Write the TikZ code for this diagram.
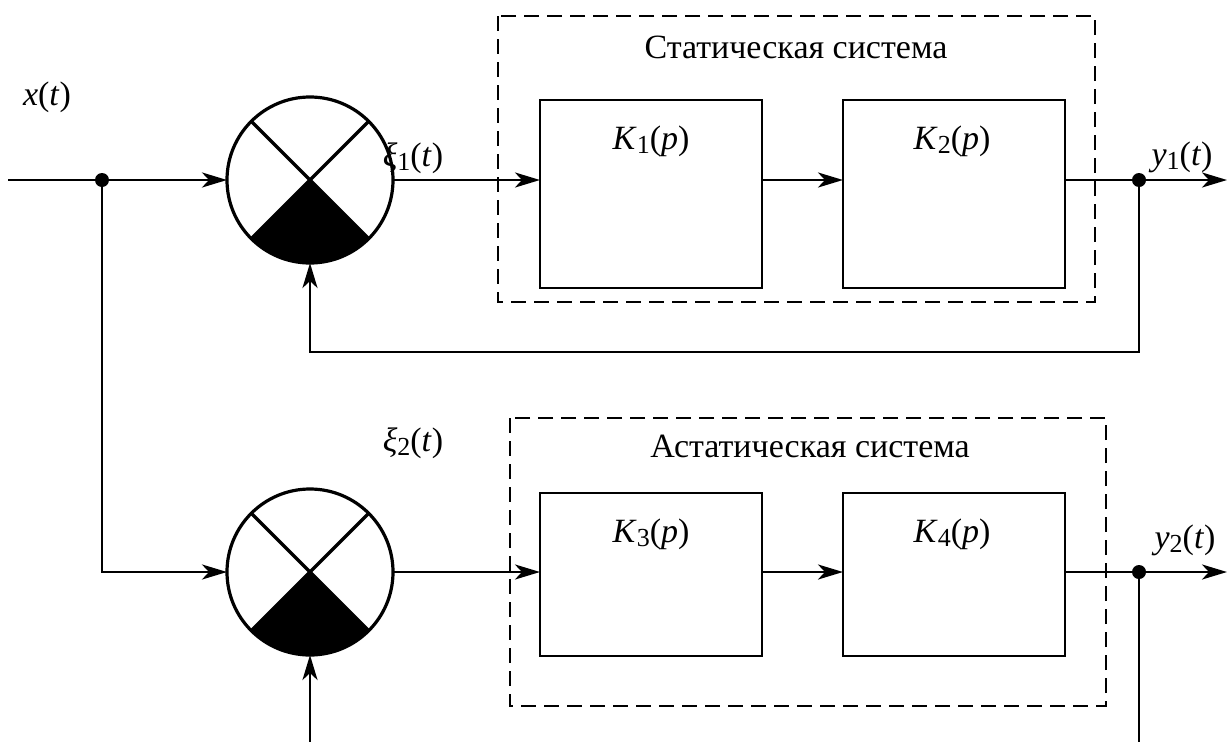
\documentclass[tikz,border=0pt]{standalone}
\usepackage{fontspec}
\setmainfont{Liberation Serif}
\usetikzlibrary{arrows.meta}
% lowered, smaller index digit
\newcommand{\lidx}[1]{\raisebox{-0.12em}{\fontsize{26}{26}\selectfont #1}}
\begin{document}
\begin{tikzpicture}[x=1pt,y=-1pt,
  every node/.style={font=\fontsize{34}{36}\selectfont},
  wire/.style={line width=2.8pt},
  arr/.style={wire,-{Stealth[length=25pt,width=15pt,inset=7pt]}},
  sumnode/.style={circle,draw,line width=3.2pt,minimum size=166pt,inner sep=0pt,outer sep=0pt},
  block/.style={draw,line width=2.5pt,inner sep=0pt,outer sep=0pt,minimum width=222pt},
  frame/.style={draw,line width=2pt,dash pattern=on 15pt off 8pt},
  junction/.style={circle,fill,inner sep=0pt,minimum size=14pt},
  lbl/.style={inner sep=0pt}
]
\useasboundingbox (0,0) rectangle (1227,742);

% dashed frames around the two systems
\draw[frame] (498,16) rectangle (1095,302);
\draw[frame] (510,418) rectangle (1106,706);
\node[lbl] (t1) at (796,47) {Статическая система};
\node[lbl] (t2) at (810,446) {Астатическая система};

% comparison elements
\foreach \s/\y in {s1/180,s2/572}{
  \node[sumnode] (\s) at (310,\y) {};
  \fill (\s.center) -- (\s.-45) arc[start angle=45,end angle=135,radius=83] -- cycle;
  \draw[line width=3.2pt] (\s.135) -- (\s.-45) (\s.45) -- (\s.-135);
}

% transfer blocks
\node[block,minimum height=188pt] (k1) at (651,194) {};
\node[block,minimum height=188pt] (k2) at (954,194) {};
\node[block,minimum height=163pt] (k3) at (651,574.5) {};
\node[block,minimum height=163pt] (k4) at (954,574.5) {};
\node[lbl] (lk1) at (651,141) {\textit{K}\lidx{1}(\textit{p})};
\node[lbl] (lk2) at (952,141) {\textit{K}\lidx{2}(\textit{p})};
\node[lbl] (lk3) at (651,534) {\textit{K}\lidx{3}(\textit{p})};
\node[lbl] (lk4) at (952,534) {\textit{K}\lidx{4}(\textit{p})};

% signal labels
\node[lbl] (lx) at (47,97) {\textit{x}(\textit{t})};
\node[lbl] (lxi1) at (413,158) {\textit{ξ}\lidx{1}(\textit{t})};
\node[lbl] (ly1) at (1182,157) {\textit{y}\lidx{1}(\textit{t})};
\node[lbl] (lxi2) at (413,443) {\textit{ξ}\lidx{2}(\textit{t})};
\node[lbl] (ly2) at (1185,540) {\textit{y}\lidx{2}(\textit{t})};

% branch points and free ends
\node[junction] (j1) at (102,180) {};
\node[junction] (j2) at (1139,180) {};
\node[junction] (j3) at (1139,572) {};
\coordinate (in) at (8,180);
\coordinate (o1) at (1227,180);
\coordinate (o2) at (1227,572);
\coordinate (b1) at (310,742);
\coordinate (b2) at (1139,742);

% upper loop
\draw[wire] (in) -- (j1);
\draw[arr] (j1) -- (s1.west);
\draw[arr] (s1.east) -- (s1.east -| k1.west);
\draw[arr] (s1 -| k1.east) -- (s1 -| k2.west);
\draw[wire] (s1 -| k2.east) -- (j2);
\draw[arr] (j2) -- (o1);
\draw[arr] (j2) -- ++(0,172) -| (s1.south);

% lower loop
\draw[arr] (j1) |- (s2.west);
\draw[arr] (s2.east) -- (s2.east -| k3.west);
\draw[arr] (s2 -| k3.east) -- (s2 -| k4.west);
\draw[wire] (s2 -| k4.east) -- (j3);
\draw[arr] (j3) -- (o2);
\draw[wire] (j3) -- (b2);
\draw[arr] (b1) -- (s2.south);
\end{tikzpicture}
\end{document}
